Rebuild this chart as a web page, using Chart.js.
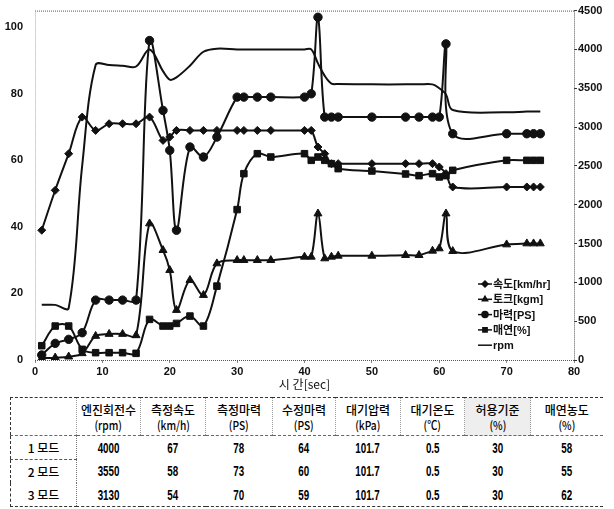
<!DOCTYPE html>
<html>
<head>
<meta charset="utf-8">
<script src="https://cdn.jsdelivr.net/npm/chart.js@4/dist/chart.umd.min.js"></script>
<style>
  body { margin: 0; background: #fff; }
  #wrap { position: relative; width: 614px; height: 509px; overflow: hidden; }
  #chart { position: absolute; left: 0; top: 0; }
  table {
    position: absolute; left: 10px; top: 397px; width: 592px; height: 110px;
    border-collapse: collapse; table-layout: fixed;
    font-family: "Noto Sans CJK KR", sans-serif;
    font-size: 12px; color: #000; text-align: center;
  }
  table { border-top: 1px dashed #333; border-bottom: 1px dashed #333; border-left: 1px dashed #333; }
  th { font-weight: 500; line-height: 15px; border-left: 1px dotted #999; border-bottom: 1px dashed #666; height: 37px; padding: 0; }
  th:first-child { border-left: none; }
  th .u { display: inline-block; transform: scaleX(0.85); }
  td { padding: 0; font-family: "Liberation Sans", sans-serif; font-size: 14px; font-weight: bold; }
  td .n { display: inline-block; transform: scaleX(0.7); }
  td:first-child { border-right: 1px dotted #777; font-family: "Noto Sans CJK KR", sans-serif; font-weight: 500; font-size: 12px; }
  tr.r1 td:first-child { border-bottom: 1px dashed #555; }
  th.shade { background: #eee; }
</style>
</head>
<body>
<div id="wrap">
  <canvas id="chart" width="614" height="395"></canvas>
  <table id="tbl"></table>
</div>
<script>
// time axis (sec)
const times = [1,3,5,7,9,11,13,15,17,19,20,21,23,25,27,30,31,33,35,40,41,42,43,44,45,50,55,57,59,60,61,62,70,73,74,75];
const speed = [39,51,62,73,69,71,71,71,73,66,67,69,69,69,69,69,69,69,69,69,69,64,62,59,59,59,59,59,59,58,56,52,52,52,52,52];
const torque = [0.5,0.7,1,2,7.2,7.8,7.8,7.4,41,33,27,15,24,19.5,29,30,30,30,30,31,31,44,30.5,31,31.3,31.3,31.5,31.5,32.8,33.5,44,32.7,34.7,35,35,35];
const power = [1.5,5,6.2,8.2,18,18,18,18,96,75,63,39,64,61,67,79,79,79,79,79,80,103,73,73,73,73,73,73,73,73,95,68,68,68,68,68];
const smoke = [4.3,10.2,10.2,3.2,2.2,2.2,2.2,2,12.2,10.2,10.2,11,13.2,10.2,22.2,45.2,56,62,61,62,60,61,60,59,57.5,56.8,55.9,55.4,56,55,55.4,57,60,60,60,60];
const rpm = [710,710,670,2500,3800,3800,3790,3780,4000,3720,3610,3640,3790,3970,4010,4000,4000,4000,4000,4000,4000,3820,3660,3560,3555,3550,3550,3550,3550,3500,3420,3220,3190,3200,3200,3200];

const seriesLabels = ['속도[km/hr]', '토크[kgm]', '마력[PS]', '매연[%]', 'rpm'];
const xTitle = '시 간[sec]';

// table under the chart
const tableHeaders = [['엔진회전수','(rpm)'],['측정속도','(km/h)'],['측정마력','(PS)'],['수정마력','(PS)'],['대기압력','(kPa)'],['대기온도','(℃)'],['허용기준','(%)'],['매연농도','(%)']];
const modes = ['1 모드', '2 모드', '3 모드'];
const modeRows = [
  ['4000','67','78','64','101.7','0.5','30','58'],
  ['3550','58','73','60','101.7','0.5','30','55'],
  ['3130','54','70','59','101.7','0.5','30','62']
];

function pts(arr) { return times.map((t, i) => ({ x: t, y: arr[i] })); }

const tickFont = { family: 'Liberation Sans', size: 11, weight: 'bold' };

function ds(label, data, style, radius, axis) {
  return {
    label: label, data: pts(data), yAxisID: axis || 'y',
    borderColor: '#111', backgroundColor: '#111', borderWidth: 2,
    pointStyle: style, pointRadius: radius, pointBorderWidth: 1,
    tension: 0.35
  };
}

const frame = {
  id: 'frame',
  afterDatasetsDraw(chart) {
    const a = chart.chartArea, ctx = chart.ctx;
    ctx.save();
    ctx.lineWidth = 1;
    ctx.setLineDash([1, 1]);
    ctx.strokeStyle = '#555';
    ctx.beginPath();
    ctx.moveTo(a.left, a.top + 0.5); ctx.lineTo(a.right, a.top + 0.5);
    ctx.moveTo(a.right + 0.5, a.top); ctx.lineTo(a.right + 0.5, a.bottom);
    ctx.moveTo(a.left, a.bottom + 0.5); ctx.lineTo(a.right, a.bottom + 0.5);
    ctx.stroke();
    ctx.strokeStyle = '#aaa';
    ctx.beginPath();
    ctx.moveTo(a.left + 0.5, a.top); ctx.lineTo(a.left + 0.5, a.bottom);
    ctx.stroke();
    ctx.setLineDash([]);

    // legend inside the plot, lower right
    ctx.font = 'bold 11px "Liberation Sans", "Noto Sans CJK KR", sans-serif';
    ctx.textBaseline = 'middle';
    ctx.fillStyle = '#111';
    chart.data.datasets.forEach((d, i) => {
      const y = a.bottom - 76 + i * 15.3;
      const x0 = a.right - 96;
      ctx.strokeStyle = '#111';
      ctx.lineWidth = 1.5;
      ctx.beginPath(); ctx.moveTo(x0, y); ctx.lineTo(x0 + 14, y); ctx.stroke();
      if (d.pointRadius > 0) {
        Chart.helpers.drawPoint(ctx, { pointStyle: d.pointStyle, radius: 3, borderWidth: 1 }, x0 + 7, y);
        ctx.fill();
      }
      ctx.fillText(d.label, x0 + 15, y + 1);
    });
    ctx.restore();
  }
};

new Chart(document.getElementById('chart'), {
  type: 'line',
  data: {
    datasets: [
      ds(seriesLabels[0], speed, 'rectRot', 4),
      ds(seriesLabels[1], torque, 'triangle', 4.6),
      ds(seriesLabels[2], power, 'circle', 4.2),
      ds(seriesLabels[3], smoke, 'rect', 4.6),
      ds(seriesLabels[4], rpm, 'circle', 0, 'y1')
    ]
  },
  options: {
    responsive: false,
    animation: false,
    devicePixelRatio: 1,
    layout: { padding: { top: 10, left: 0, right: 0, bottom: 0 } },
    plugins: { legend: { display: false }, tooltip: { enabled: false } },
    scales: {
      x: {
        type: 'linear', min: 0, max: 80,
        ticks: { stepSize: 10, color: '#111', font: tickFont, padding: 2, maxRotation: 0, callback: v => String(v) },
        grid: { drawOnChartArea: false, drawTicks: true, tickLength: 3, color: '#888' },
        border: { display: false },
        title: { display: true, text: xTitle, color: '#111', padding: { top: 0, bottom: 3 },
                 font: { family: 'Noto Sans CJK KR', size: 12 } },
        afterFit(s) { s.height = 35; }
      },
      y: {
        position: 'left', min: 0, max: 105,
        ticks: { stepSize: 20, includeBounds: false, color: '#111', font: tickFont, padding: 4, callback: v => String(v) },
        grid: { display: false },
        border: { display: false },
        afterFit(s) { s.width = 35; }
      },
      y1: {
        position: 'right', min: 0, max: 4500,
        ticks: { stepSize: 500, color: '#111', font: tickFont, padding: 1, callback: v => String(v) },
        grid: { drawOnChartArea: false, drawTicks: true, tickLength: 3, color: '#333' },
        border: { display: false },
        afterFit(s) { s.width = 40; }
      }
    }
  },
  plugins: [frame]
});

// build the table
const tbl = document.getElementById('tbl');
let html = '<tr><th></th>';
tableHeaders.forEach((h, i) => {
  html += '<th' + (i === 6 ? ' class="shade"' : '') + '>' + h[0] + '<br><span class="u">' + h[1] + '</span></th>';
});
html += '</tr>';
modes.forEach((m, r) => {
  html += '<tr class="r' + (r + 1) + '"><td>' + m + '</td>';
  modeRows[r].forEach(v => { html += '<td><span class="n">' + v + '</span></td>'; });
  html += '</tr>';
});
tbl.innerHTML = html;
const colW = [66, 64, 65, 67, 63, 65, 64, 66, 72];
const cg = document.createElement('colgroup');
colW.forEach(w => { const c = document.createElement('col'); c.style.width = w + 'px'; cg.appendChild(c); });
tbl.insertBefore(cg, tbl.firstChild);
</script>
</body>
</html>
